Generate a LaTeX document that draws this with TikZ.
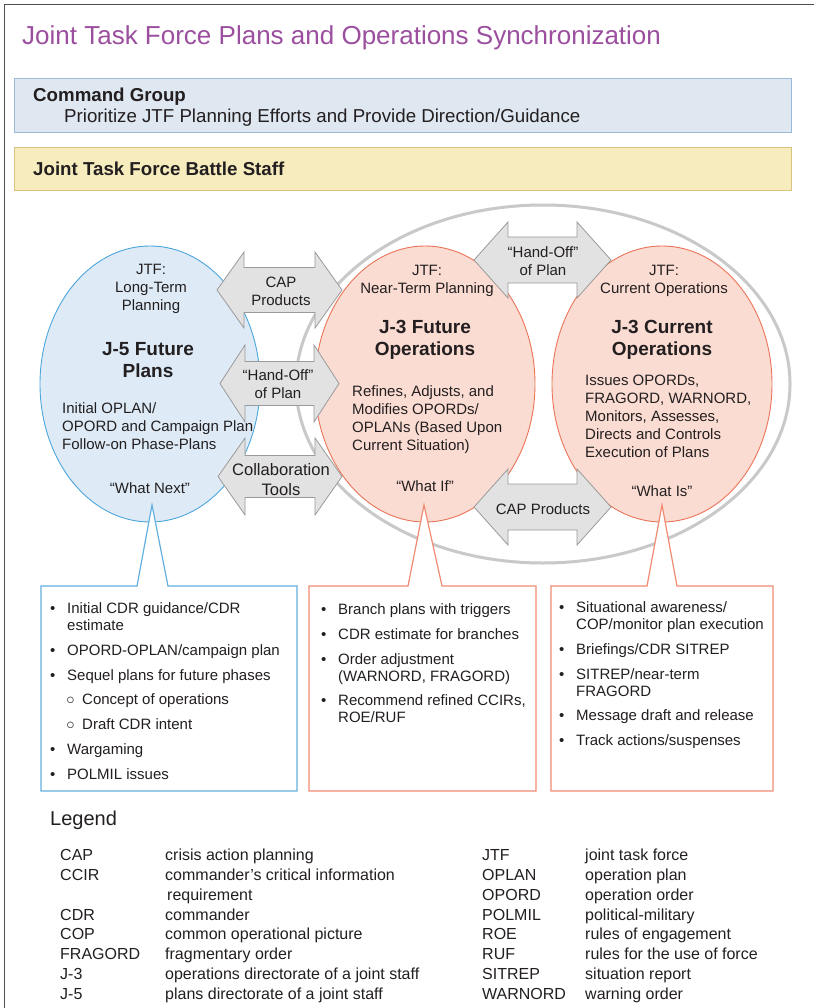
\documentclass[tikz,border=0pt]{standalone}
\usepackage{fontspec}
\setmainfont{Liberation Sans}

\definecolor{ink}{HTML}{231F20}
\definecolor{titlepurple}{HTML}{9B4F9E}
\definecolor{cmdfill}{HTML}{DFE7F1}
\definecolor{cmdline}{HTML}{9DB9D9}
\definecolor{stafffill}{HTML}{F6ECBE}
\definecolor{staffline}{HTML}{D8C27F}
\definecolor{planfill}{HTML}{DEEBF7}
\definecolor{planline}{HTML}{4DA6DC}
\definecolor{opsfill}{HTML}{FBDCD2}
\definecolor{opsline}{HTML}{EA7458}
\definecolor{ringgray}{HTML}{C9C9C9}
\definecolor{arrowfill}{HTML}{E2E2E2}
\definecolor{arrowline}{HTML}{9A9A9A}
\definecolor{framegray}{HTML}{505050}
\definecolor{boxplan}{HTML}{62B0E0}
\definecolor{boxops}{HTML}{F08B72}

% two-headed block arrow: left tip x, right tip x, centre y, head half-height, shaft half-height, head length
\newcommand\dblarrow[6]{%
  \draw[arrowshape] (#1,#3) -- ({#1+#6},{#3-#4}) -- ({#1+#6},{#3-#5}) -- ({#2-#6},{#3-#5})
    -- ({#2-#6},{#3-#4}) -- (#2,#3) -- ({#2-#6},{#3+#4}) -- ({#2-#6},{#3+#5})
    -- ({#1+#6},{#3+#5}) -- ({#1+#6},{#3+#4}) -- cycle;}

% box with a pointer: colour, left, right, top, bottom, tip x, tip y, pointer base left, pointer base right
\newcommand\calloutbox[9]{%
  \draw[calloutline, draw=#1] (#2,#4) -- (#8,#4) -- (#6,#7) -- (#9,#4) -- (#3,#4)
    -- (#3,#5) -- (#2,#5) -- cycle;}

% bullet lists (wrapped lines hang under the text)
\newlength\bulw \setlength\bulw{17pt}
\newcommand\firstitm[1]{\noindent\hangindent=\bulw\hangafter=1\makebox[\bulw][l]{\textbullet}#1}
\newcommand\itm[1]{\par\vspace{7.8pt}\firstitm{#1}}
\newcommand\subitm[1]{\par\vspace{7.8pt}\noindent\hspace*{\bulw}\makebox[15pt][l]{\hspace{-0.8pt}\scalebox{1.15}{$\circ$}}#1}

\begin{document}
\begin{tikzpicture}[x=1pt, y=-1pt,
  txt/.style={text=ink, inner sep=0pt, align=center, font=\fontsize{15}{18}\selectfont},
  txtleft/.style={txt, align=left},
  heading/.style={text=ink, inner sep=0pt, align=center, font=\bfseries\fontsize{19}{22.5}\selectfont},
  bandtext/.style={text=ink, inner sep=0pt, font=\fontsize{18.7}{22}\selectfont},
  band/.style={rectangle, inner sep=0pt, minimum width=777pt, line width=1pt, anchor=north west},
  plan/.style={fill=planfill, draw=planline, line width=0.9pt},
  ops/.style={fill=opsfill, draw=opsline, line width=0.9pt},
  arrowshape/.style={fill=arrowfill, draw=arrowline, line width=0.8pt, line join=miter},
  calloutline/.style={fill=white, line width=1.2pt, line join=miter},
  listtext/.style={text=ink, inner sep=0pt, anchor=base west, font=\fontsize{15}{17}\selectfont},
  legendtext/.style={text=ink, inner sep=0pt, anchor=base west, font=\fontsize{16}{19.8}\selectfont},
]
\useasboundingbox (0,0) rectangle (814,1008);
\fill[white] (0,0) rectangle (814,1008);

% frame edges
\draw[framegray, line width=1.8pt] (814,4.5) -- (4.5,4.5) -- (4.5,1008);

% title
\node[anchor=base west, inner sep=0pt, text=titlepurple, font=\fontsize{26}{30}\selectfont] (title) at (22,45)
  {Joint Task Force Plans and Operations Synchronization};

% command group band
\node[band, fill=cmdfill, draw=cmdline, minimum height=54pt] (cmd) at (14,78) {};
\node[bandtext, anchor=base west, font=\bfseries\fontsize{18.7}{22}\selectfont] (cmdhead) at (33,101.5) {Command Group};
\node[bandtext, anchor=base west] (cmdtask) at (64,122.7) {Prioritize JTF Planning Efforts and Provide Direction/Guidance};

% battle staff band
\node[band, fill=stafffill, draw=staffline, minimum height=43pt] (staff) at (14,147) {};
\node[bandtext, anchor=base west, font=\bfseries\fontsize{18.7}{22}\selectfont] (staffhead) at (33,175.5) {Joint Task Force Battle Staff};

% ring round the two J-3 cells
\draw[ringgray, line width=3pt] (543,384) ellipse [x radius=247pt, y radius=179pt];

% the three cells
\draw[plan] (150,384) ellipse [x radius=110pt, y radius=138pt];
\draw[ops]  (425,384) ellipse [x radius=110pt, y radius=138pt];
\draw[ops]  (662,384) ellipse [x radius=110pt, y radius=138pt];

% exchanges between the cells
\dblarrow{217}{342}{290}{38}{22.5}{27}
\dblarrow{220}{339}{383.5}{38.5}{22}{25}
\dblarrow{218}{342}{476.5}{38.5}{21}{27}
\dblarrow{474}{611}{260}{38}{23}{34}
\dblarrow{474}{611}{507}{38}{23}{34}

\node[txt] (capL) at (281,291.5) {CAP\\Products};
\node[txt] (handL) at (278,384.5) {“Hand-Off”\\of Plan};
\node[txt, font=\fontsize{16.6}{20}\selectfont] (collab) at (281,479.5) {Collaboration\\Tools};
\node[txt] (handR) at (543,261) {“Hand-Off”\\of Plan};
\node[txt] (capR) at (543,509) {CAP Products};

% J-5 cell
\node[txt] (j5jtf) at (151,289) {JTF:\\Long-Term\\Planning};
\node[heading] (j5head) at (148,360) {J-5 Future\\Plans};
\node[txtleft, anchor=west] (j5text) at (62,426) {Initial OPLAN/\\OPORD and Campaign Plan\\Follow-on Phase-Plans};
\node[txt] (j5what) at (150,488) {“What Next”};

% J-3 future operations cell
\node[txt] (fojtf) at (427,281) {JTF:\\Near-Term Planning};
\node[heading] (fohead) at (425,340) {J-3 Future\\Operations};
\node[txtleft, anchor=west] (fotext) at (352,419.5) {Refines, Adjusts, and\\Modifies OPORDs/\\OPLANs (Based Upon\\Current Situation)};
\node[txt] (fowhat) at (425,486) {“What If”};

% J-3 current operations cell
\node[txt] (cojtf) at (664,281) {JTF:\\Current Operations};
\node[heading] (cohead) at (662,340) {J-3 Current\\Operations};
\node[txtleft, anchor=west] (cotext) at (585,416) {Issues OPORDs,\\FRAGORD, WARNORD,\\Monitors, Assesses,\\Directs and Controls\\Execution of Plans};
\node[txt] (cowhat) at (662,491) {“What Is”};

% task boxes under each cell
\calloutbox{boxplan}{41}{297}{586}{791}{152}{505}{137}{168}
\calloutbox{boxops}{309}{536}{586}{791}{424}{505}{408}{442}
\calloutbox{boxops}{551}{773}{586}{791}{662}{505}{647}{677}

\node[listtext] (j5list) at (50,613.5) {\begin{minipage}[t]{245pt}
  \firstitm{Initial CDR guidance/CDR\\estimate}
  \itm{OPORD-OPLAN/campaign plan}
  \itm{Sequel plans for future phases}
  \subitm{Concept of operations}
  \subitm{Draft CDR intent}
  \itm{Wargaming}
  \itm{POLMIL issues}
\end{minipage}};

\node[listtext] (folist) at (321,614.4) {\begin{minipage}[t]{215pt}
  \firstitm{Branch plans with triggers}
  \itm{CDR estimate for branches}
  \itm{Order adjustment\\(WARNORD, FRAGORD)}
  \itm{Recommend refined CCIRs,\\ROE/RUF}
\end{minipage}};

\node[listtext] (colist) at (559,612.4) {\begin{minipage}[t]{215pt}
  \firstitm{Situational awareness/\\COP/monitor plan execution}
  \itm{Briefings/CDR SITREP}
  \itm{SITREP/near-term\\FRAGORD}
  \itm{Message draft and release}
  \itm{Track actions/suspenses}
\end{minipage}};

% legend
\node[anchor=base west, inner sep=0pt, text=ink, font=\fontsize{20}{24}\selectfont] (leghead) at (50,825) {Legend};

\node[legendtext] (legleft) at (60,860.7) {\begin{tabular}[t]{@{}p{105pt}@{}l@{}}
CAP & crisis action planning\\
CCIR & commander’s critical information\\
 & \hspace{2pt}requirement\\
CDR & commander\\
COP & common operational picture\\
FRAGORD & fragmentary order\\
J-3 & operations directorate of a joint staff\\
J-5 & plans directorate of a joint staff
\end{tabular}};

\node[legendtext] (legright) at (482,860.7) {\begin{tabular}[t]{@{}p{103pt}@{}l@{}}
JTF & joint task force\\
OPLAN & operation plan\\
OPORD & operation order\\
POLMIL & political-military\\
ROE & rules of engagement\\
RUF & rules for the use of force\\
SITREP & situation report\\
WARNORD & warning order
\end{tabular}};
\end{tikzpicture}
\end{document}
